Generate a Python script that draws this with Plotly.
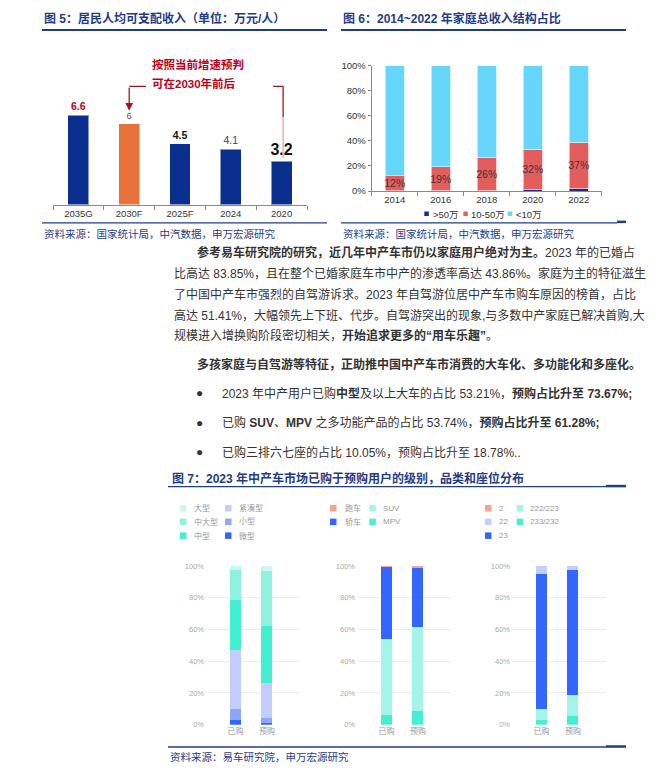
import plotly.graph_objects as go

W, H = 668, 774
def px(x): return x / W
def py(y): return 1 - y / H

NAVY = "#1f3c88"
FONT = "Liberation Sans, Noto Sans CJK SC, sans-serif"
AXIS_COL = "#7a8aa8"

# ---------------- Fig 5 data ----------------
income_cats = ["2035G", "2030F", "2025F", "2024", "2020"]
income_vals = [6.6, 6.0, 4.5, 4.1, 3.2]
income_labels = ["6.6", "6", "4.5", "4.1", "3.2"]

# ---------------- Fig 6 data ----------------
years = ["2014", "2016", "2018", "2020", "2022"]
share_gt50 = [0.3, 0.5, 0.8, 1.2, 2.0]
share_10_50 = [12, 19, 26, 32, 37]
share_lt10 = [87.7, 80.5, 73.2, 66.8, 61.0]

# ---------------- Fig 7 data ----------------
groups = ["已购", "预购"]
# level
lvl_weixing = [2.9, 0.8]
lvl_xiaoxing = [7.0, 3.5]
lvl_jincou = [36.89, 22.03]
lvl_zhongxing = [31.5, 36.0]
lvl_zhongda = [19.4, 34.4]
lvl_daxing = [2.31, 3.27]
# category
cat_mpv = [6.2, 8.3]
cat_suv = [47.54, 52.98]
cat_sedan = [45.96, 37.52]
cat_sports = [0.3, 1.2]
# seats
seat_233 = [2.7, 5.4]
seat_222 = [7.35, 13.38]
seat_23 = [85.15, 78.72]
seat_22 = [4.8, 2.5]
seat_2 = [0.0, 0.0]

fig = go.Figure()

# ---- Fig 5 bars ----
lab_colors = ["#c0001a", "#555555", "#111111", "#444444", "#111111"]
lab_sizes = [10.5, 9.5, 10.5, 10.5, 16]
lab_bold = [True, False, True, False, True]
texts = [f"<b>{t}</b>" if b else t for t, b in zip(income_labels, lab_bold)]
fig.add_trace(go.Bar(
    x=income_cats, y=income_vals, xaxis="x", yaxis="y",
    marker=dict(color=["#0b2f8e", "#e8733a", "#0b2f8e", "#0b2f8e", "#0b2f8e"],
                line=dict(color="rgba(255,255,255,0.5)", width=1)),
    width=0.41, text=texts, textposition="outside", cliponaxis=False,
    constraintext="none", textangle=0,
    textfont=dict(color=lab_colors, size=lab_sizes, family=FONT),
    hoverinfo="skip"))

# ---- Fig 6 bars ----
f6 = [(">50万", share_gt50, "#10328f", "rgba(255,255,255,0.4)"),
      ("10-50万", share_10_50, "#e35d5d", "rgba(255,200,200,0.8)"),
      ("<10万", share_lt10, "#66d6fb", "rgba(200,240,255,0.8)")]
for name, vals, col, lc in f6:
    kw = {}
    if name == "10-50万":
        kw = dict(text=[f"{v:.0f}%" for v in vals], textposition="inside",
                  insidetextanchor="middle", constraintext="none", textangle=0,
                  textfont=dict(color="#3a3a3a", size=10.5, family=FONT))
    fig.add_trace(go.Bar(x=years, y=vals, name=name, xaxis="x2", yaxis="y2",
                         marker=dict(color=col, line=dict(color=lc, width=1)),
                         width=0.41, hoverinfo="skip", **kw))

# ---- Fig 7 bars ----
level_series = [("微型", lvl_weixing, "#3366fe"), ("小型", lvl_xiaoxing, "#8ca6fb"),
                ("紧凑型", lvl_jincou, "#c0cdfd"), ("中型", lvl_zhongxing, "#43efd3"),
                ("中大型", lvl_zhongda, "#8ef2df"), ("大型", lvl_daxing, "#cbf7ee")]
cat_series = [("MPV", cat_mpv, "#46efd4"), ("SUV", cat_suv, "#a5f4e8"),
              ("轿车", cat_sedan, "#3366ff"), ("跑车", cat_sports, "#f5a58f")]
seat_series = [("233/232", seat_233, "#46efd4"), ("222/223", seat_222, "#a5f4e8"),
               ("23", seat_23, "#3366ff"), ("22", seat_22, "#c2cffd"), ("2", seat_2, "#f5a58f")]

for series, ax in [(level_series, "3"), (cat_series, "4"), (seat_series, "5")]:
    for name, vals, col in series:
        fig.add_trace(go.Bar(x=groups, y=vals, name=name, xaxis="x" + ax, yaxis="y" + ax,
                             marker=dict(color=col, line=dict(width=0)), width=0.35,
                             hoverinfo="skip"))

# ---------------- Axes ----------------
layout_axes = dict(
    xaxis=dict(domain=[px(53), px(307)], type="category", range=[-0.5, 4.5],
               showline=True, linecolor=AXIS_COL, linewidth=1, ticks="outside",
               tickson="boundaries", ticklen=4, tickcolor=AXIS_COL,
               tickfont=dict(size=9.5, color="#333", family=FONT), anchor="y"),
    yaxis=dict(domain=[py(201.7), py(40)], range=[0, (201.7 - 40) / 13.74],
               visible=False, anchor="x"),
    xaxis2=dict(domain=[px(371.7), px(601.7)], type="category", range=[-0.5, 4.5],
                showline=True, linecolor=AXIS_COL, linewidth=1, ticks="outside",
                tickson="boundaries", ticklen=4, tickcolor=AXIS_COL,
                tickfont=dict(size=9.5, color="#333", family=FONT), anchor="y2"),
    yaxis2=dict(domain=[py(187.7), py(60.7)], range=[0, 100], dtick=20,
                ticksuffix="%", showline=True, linecolor=AXIS_COL, ticks="outside",
                ticklen=3, tickcolor=AXIS_COL, showgrid=False, zeroline=False,
                tickfont=dict(size=9.5, color="#333", family=FONT), anchor="x2"),
)
f7_x = [(205, 300), (356, 451), (511, 606)]
for i, (a, b) in enumerate(f7_x):
    n = str(i + 3)
    layout_axes["xaxis" + n] = dict(domain=[px(a), px(b)], type="category",
                                     range=[-0.97, 2.05], showline=False, showgrid=False,
                                     ticks="", tickfont=dict(size=8, color="#999", family=FONT),
                                     anchor="y" + n)
    layout_axes["yaxis" + n] = dict(domain=[py(729), py(568)], range=[0, 100], dtick=20,
                                     ticksuffix="%", showgrid=True, gridcolor="#eeeeee",
                                     zeroline=False, showline=False,
                                     tickfont=dict(size=7.5, color="#aaa", family=FONT),
                                     anchor="x" + n)

fig.update_layout(width=W, height=H, margin=dict(l=0, r=0, t=0, b=0),
                  paper_bgcolor="white", plot_bgcolor="white", showlegend=False,
                  barmode="stack", font=dict(family=FONT), **layout_axes)

shapes = []
annos = []

def hline(x0, x1, y, color=NAVY, w=1.5):
    shapes.append(dict(type="line", xref="paper", yref="paper", x0=px(x0), x1=px(x1),
                       y0=py(y), y1=py(y), line=dict(color=color, width=w)))

def text(x, y, s, size=12, color="#333", anchor="left"):
    annos.append(dict(xref="paper", yref="paper", x=px(x), y=py(y), text=s,
                      showarrow=False, xanchor=anchor, yanchor="middle",
                      font=dict(size=size, color=color, family=FONT)))

# Titles & rules
text(42, 13, "<b>图 5：居民人均可支配收入（单位：万元/人）</b>", 12, NAVY)
hline(42, 327, 24.3, NAVY, 2)
text(341, 13, "<b>图 6：2014~2022 年家庭总收入结构占比</b>", 12, NAVY)
hline(341, 626, 24.3, NAVY, 2)
hline(42, 327, 220, NAVY, 1.2)
text(42, 231, "资料来源：国家统计局，中汽数据，申万宏源研究", 10.5, NAVY)
hline(341, 617, 220, NAVY, 1.2)
hline(617, 626, 219, NAVY, 2.5)
text(341, 231, "资料来源：国家统计局，中汽数据，申万宏源研究", 10.5, NAVY)

# Fig 5 callouts
RED = "#c0001a"
text(150, 59, "<b>按照当前增速预判</b>", 11.5, RED)
text(150, 79, "<b>可在2030年前后</b>", 11.5, RED)
y_top = (201.7 - 81.5) / 13.74
shapes.append(dict(type="line", xref="x", yref="y", x0=1, x1=1.33, y0=y_top, y1=y_top,
                   line=dict(color="#a8141e", width=1.3)))
annos.append(dict(xref="x", yref="y", axref="x", ayref="y", x=1, y=6.95, ax=1, ay=y_top,
                  text="", showarrow=True, arrowhead=2, arrowsize=1.2, arrowwidth=1.3,
                  arrowcolor="#a8141e", standoff=0, startstandoff=0))
shapes.append(dict(type="line", xref="x", yref="y", x0=3.83, x1=4.03, y0=y_top, y1=y_top,
                   line=dict(color="#a8141e", width=1.3)))
shapes.append(dict(type="line", xref="x", yref="y", x0=4.03, x1=4.03, y0=y_top, y1=6.46,
                   line=dict(color="#a8141e", width=1.3)))
shapes.append(dict(type="line", xref="x", yref="y", x0=4.03, x1=4.03, y0=6.46, y1=3.45,
                   line=dict(color="#e7a3ab", width=1.3)))

# Fig 6 legend
for sx, tx, col, lab in [(424.3, 430.5, "#10328f", ">50万"), (463.3, 469.5, "#e35d5d", "10-50万"),
                         (507.7, 514, "#66d6fb", "<10万")]:
    shapes.append(dict(type="rect", xref="paper", yref="paper", x0=px(sx), x1=px(sx + 4.5),
                       y0=py(213), y1=py(208.5), fillcolor=col, line=dict(width=0)))
    text(tx, 211, lab, 9.5, "#333")

# Body text
body = [
    (195, 250.5, "<b>参考易车研究院的研究，近几年中产车市仍以家庭用户绝对为主。</b>2023 年的已婚占"),
    (171.7, 271.5, "比高达 83.85%，且在整个已婚家庭车市中产的渗透率高达 43.86%。家庭为主的特征滋生"),
    (171.7, 292.5, "了中国中产车市强烈的自驾游诉求。2023 年自驾游位居中产车市购车原因的榜首，占比"),
    (171.7, 313.5, "高达 51.41%，大幅领先上下班、代步。自驾游突出的现象,与多数中产家庭已解决首购,大"),
    (171.7, 334, "规模进入增换购阶段密切相关，<b>开始追求更多的“用车乐趣”</b>。"),
    (195, 363.3, "<b>多孩家庭与自驾游等特征，正助推中国中产车市消费的大车化、多功能化和多座化。</b>"),
    (220, 392.7, "2023 年中产用户已购<b>中型</b>及以上大车的占比 53.21%，<b>预购占比升至 73.67%;</b>"),
    (220, 422.7, "已购 <b>SUV</b>、<b>MPV</b> 之多功能产品的占比 53.74%，<b>预购占比升至 61.28%;</b>"),
    (220, 452.7, "已购三排六七座的占比 10.05%，预购占比升至 18.78%.."),
]
for x, y, s in body:
    text(x, y, s, 12, "#333")
for y in [392.7, 422.7, 452.7]:
    text(199, y, "●", 12, "#333", "center")

# Fig 7 title & rules
text(170, 479.3, "<b>图 7：2023 年中产车市场已购于预购用户的级别，品类和座位分布</b>", 12, NAVY)
hline(168, 606, 487.5, NAVY, 1.3)
hline(606, 626, 487, NAVY, 2.5)
hline(168, 606, 751.7, NAVY, 1.3)
hline(606, 626, 751.2, NAVY, 2.5)
text(168, 762, "资料来源：易车研究院，申万宏源研究", 10.5, NAVY)

# Fig 7 legends (column-major)
def legend(items, sq_cols, tx_cols, rows):
    ys = [509.5, 523.3, 537.3]
    for i, (name, col) in enumerate(items):
        c, r = divmod(i, rows)
        y = ys[r]
        shapes.append(dict(type="rect", xref="paper", yref="paper", x0=px(sq_cols[c]),
                           x1=px(sq_cols[c] + 6.5), y0=py(y + 3.3), y1=py(y - 3.3),
                           fillcolor=col, line=dict(width=0)))
        text(tx_cols[c], y, name, 8, "#999")

lv = {n: c for n, _, c in level_series}
legend([(n, lv[n]) for n in ["大型", "中大型", "中型", "紧凑型", "小型", "微型"]],
       [180, 225], [191.7, 237.3], 3)
cv = {n: c for n, _, c in cat_series}
legend([(n, cv[n]) for n in ["跑车", "轿车", "SUV", "MPV"]], [330, 369.3], [342.7, 381], 2)
sv = {n: c for n, _, c in seat_series}
legend([(n, sv[n]) for n in ["2", "22", "23", "222/223", "233/232"]],
       [485, 516.7], [496.7, 528.3], 3)

fig.update_layout(shapes=shapes, annotations=annos)
fig.write_html("out.html", config={"displayModeBar": False},
               post_script="document.body.style.margin='0';document.body.style.padding='0';")
